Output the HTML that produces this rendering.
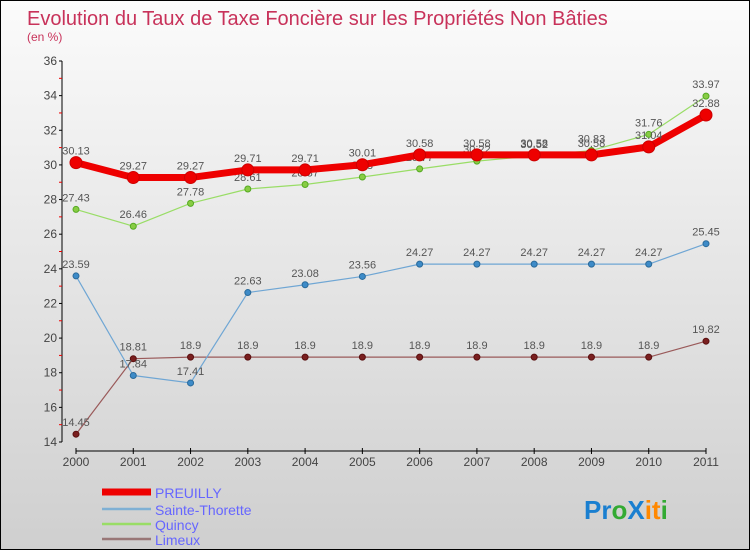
<!DOCTYPE html>
<html><head><meta charset="utf-8"><style>
body{margin:0;width:750px;height:550px;overflow:hidden;font-family:"Liberation Sans",sans-serif}
#c{position:absolute;left:0;top:0;width:748px;height:548px;border:1px solid #000;background:linear-gradient(#fbfbfb,#cfcfcf)}
</style></head><body>
<div id="c">
<svg id="s" width="748" height="548" xmlns="http://www.w3.org/2000/svg">
<text x="26" y="24" font-size="20" fill="#c8325a">Evolution du Taux de Taxe Foncière sur les Propriétés Non Bâties</text>
<text x="26" y="40" font-size="12" fill="#c8325a">(en %)</text>
<g id="axes"></g><g id="series"></g>
<g>
<line x1="101" y1="491" x2="150" y2="491" stroke="#e00" stroke-width="7"/>
<text x="154" y="497" font-size="14" fill="#66f">PREUILLY</text>
<line x1="101" y1="508" x2="150" y2="508" stroke="#7fb0d4" stroke-width="2.5"/>
<text x="154" y="514" font-size="14" fill="#66f">Sainte-Thorette</text>
<line x1="101" y1="523" x2="150" y2="523" stroke="#9d6" stroke-width="2.5"/>
<text x="154" y="529" font-size="14" fill="#66f">Quincy</text>
<line x1="101" y1="538" x2="150" y2="538" stroke="#977" stroke-width="2.5"/>
<text x="154" y="544" font-size="14" fill="#66f">Limeux</text>
</g>
<g font-size="26" font-weight="bold">
<text x="583" y="518"><tspan fill="#1a7fd0">Pr</tspan><tspan fill="#3a3">o</tspan><tspan fill="#1a7fd0">X</tspan><tspan fill="#f80">it</tspan><tspan fill="#3a3">i</tspan></text>
</g>
</svg></div>
<script>
const years=[2000,2001,2002,2003,2004,2005,2006,2007,2008,2009,2010,2011];
const yTicks=[14,16,18,20,22,24,26,28,30,32,34,36];
const preuilly=[30.13,29.27,29.27,29.71,29.71,30.01,30.58,30.58,30.58,30.58,31.04,32.88];
const sainteThorette=[23.59,17.84,17.41,22.63,23.08,23.56,24.27,24.27,24.27,24.27,24.27,25.45];
const quincy=[27.43,26.46,27.78,28.61,28.87,29.3,29.77,30.22,30.52,30.83,31.76,33.97];
const limeux=[14.45,18.81,18.9,18.9,18.9,18.9,18.9,18.9,18.9,18.9,18.9,19.82];
const NS="http://www.w3.org/2000/svg";
const X=i=>75+i*(630/11);
const Y=v=>441-(v-14)*(381/22);
function mk(tag,attrs,parent,txt){const e=document.createElementNS(NS,tag);for(const k in attrs)e.setAttribute(k,attrs[k]);if(txt!==undefined)e.textContent=txt;parent.appendChild(e);return e;}
const ax=document.getElementById('axes');
let e=mk('line',{x1:61,y1:Y(36),x2:61,y2:Y(14),stroke:'#000'},ax);


e=mk('line',{x1:75,y1:450,x2:705,y2:450,stroke:'#000'},ax);


yTicks.forEach(t=>{
 mk('line',{x1:58,y1:Y(t),x2:61,y2:Y(t),stroke:'#000'},ax);
 if(t<36)mk('line',{x1:58,y1:Y(t+1),x2:61,y2:Y(t+1),stroke:'#e00'},ax);
 const l=mk('text',{x:56,y:Y(t)+4,'font-size':12,fill:'#444','text-anchor':'end'},ax,t);
 
 
});
years.forEach((y,i)=>{
 mk('line',{x1:X(i),y1:447,x2:X(i),y2:453,stroke:'#000'},ax);
 const l=mk('text',{x:X(i),y:465,'font-size':12,fill:'#444','text-anchor':'middle'},ax,y);
 
 
});
const sg=document.getElementById('series');
function series(vals,color,w,r,name,dot,dotStroke){
 const g=mk('g',{},sg);
 
 
 const p=mk('polyline',{points:vals.map((v,i)=>X(i)+','+Y(v)).join(' '),fill:'none',stroke:color,'stroke-width':w,'stroke-linejoin':'round'},g);
 
 
 vals.forEach((v,i)=>{
  const c=mk('circle',{cx:X(i),cy:Y(v),r:r,fill:dot,stroke:dotStroke,'stroke-width':1},g);
  
  
  const t=mk('text',{x:X(i),y:Y(v)-8,'font-size':11,fill:'#555','text-anchor':'middle'},g,v);
  
  
 });
}
series(limeux,'#9a5a5a',1.2,3,'limeux','#7a1f1f','#5a1010');
series(sainteThorette,'#6fa6d4',1.2,3,'sainte-thorette','#3d8bc8','#2a6a9a');
series(quincy,'#9d6',1.2,3,'quincy','#8c4','#5a2');
series(preuilly,'#e00',7,6,'preuilly','#e00','#c00');
</script>
</body></html>
